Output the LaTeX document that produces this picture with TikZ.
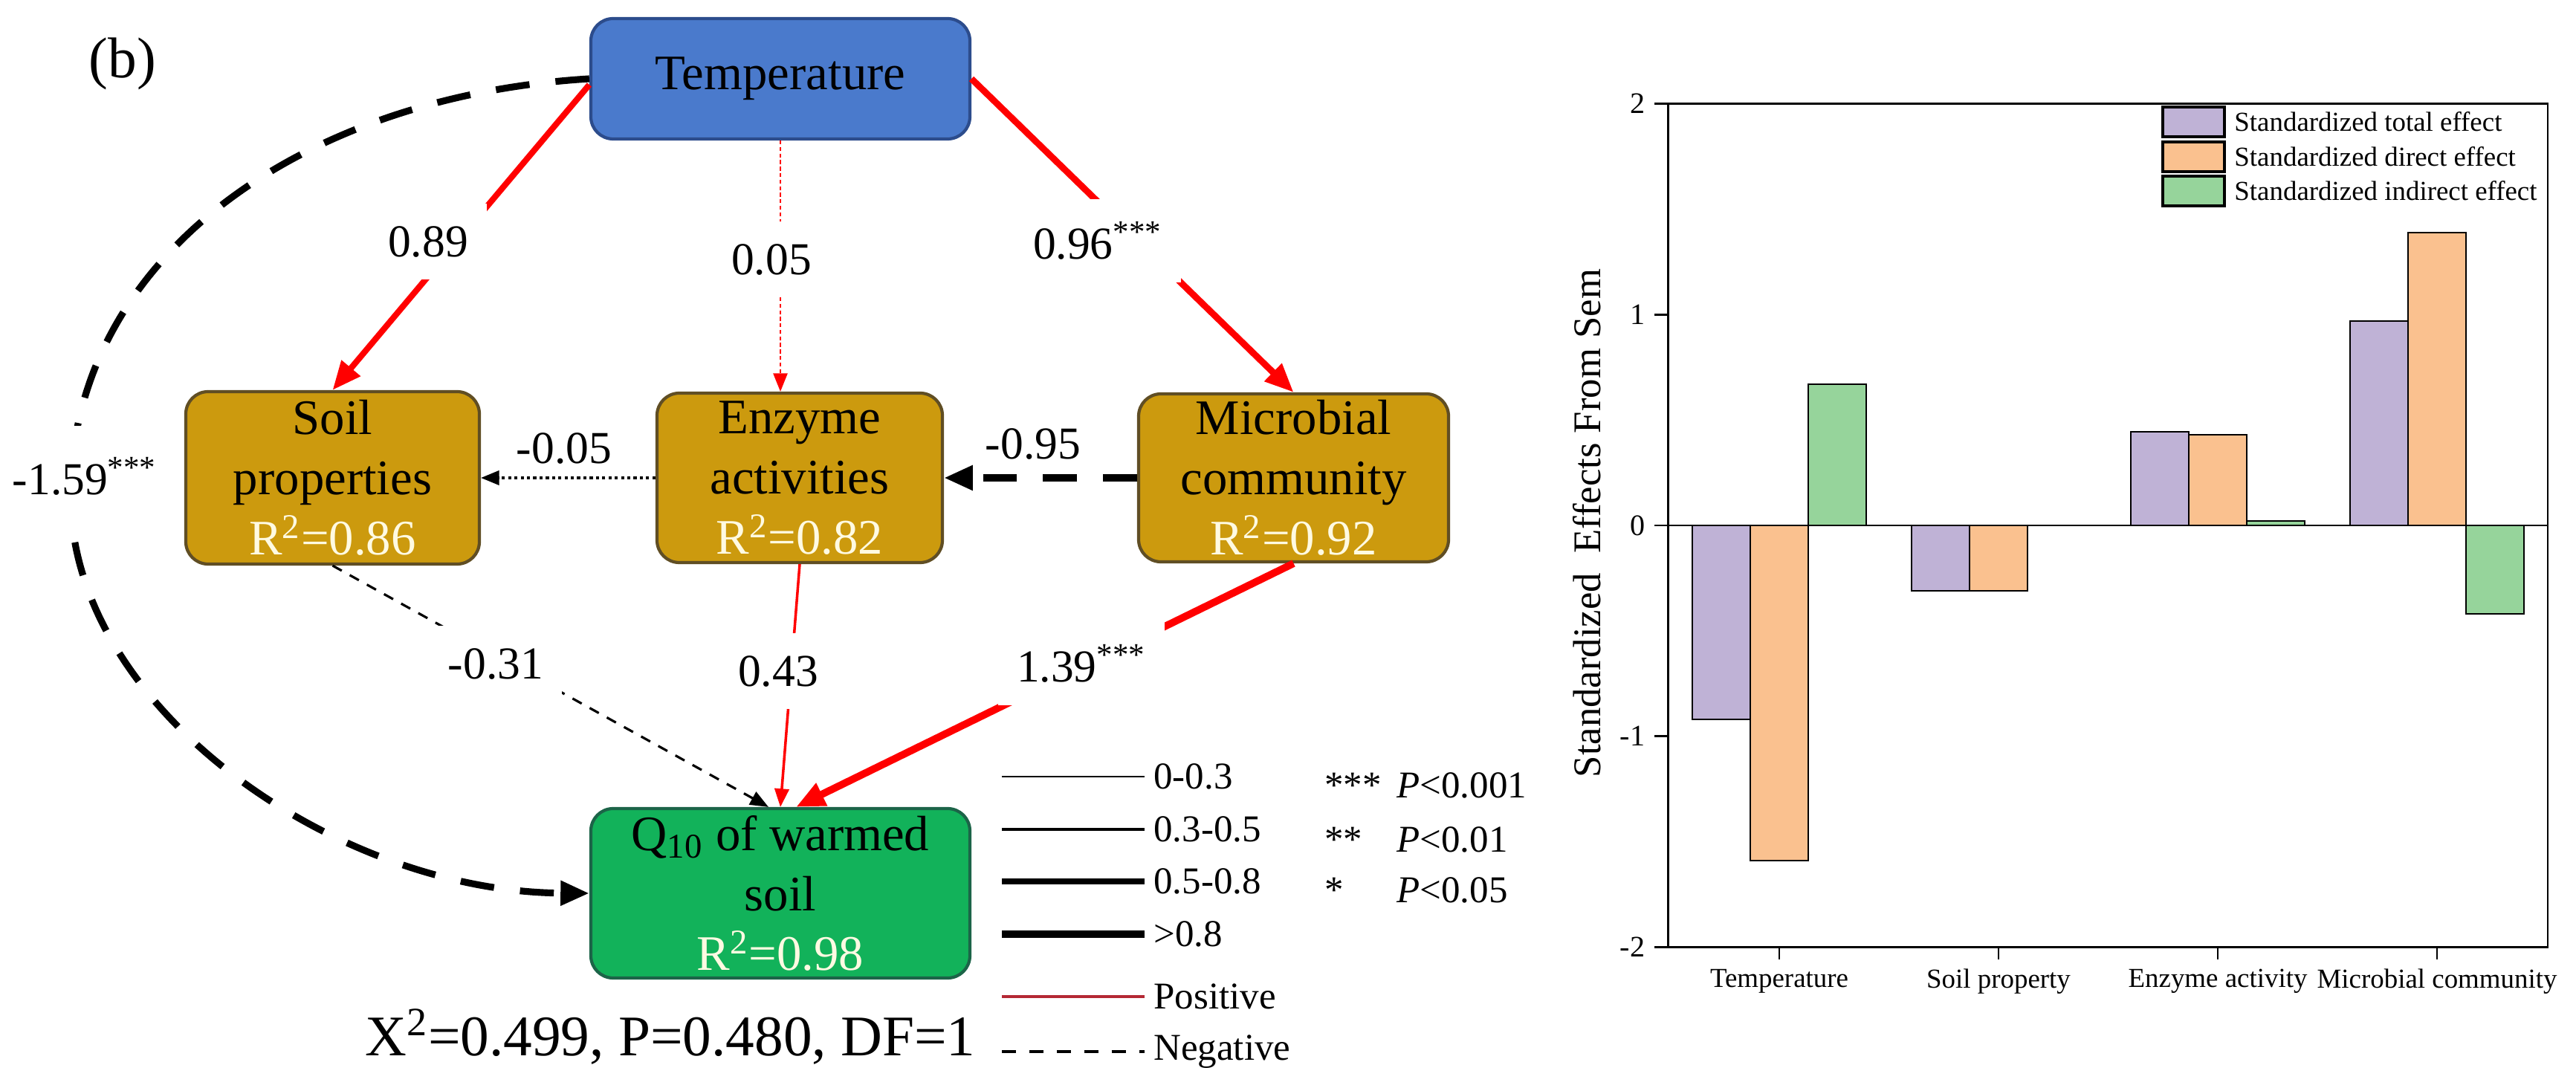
\documentclass[tikz,border=0pt]{standalone}
\usepackage{fontspec}
\setmainfont{Liberation Serif}
\usetikzlibrary{arrows.meta}
\usepackage{color}

\definecolor{tempblue}{RGB}{74,122,204}
\definecolor{tempedge}{RGB}{44,76,140}
\definecolor{soilgold}{RGB}{204,154,14}
\definecolor{goldedge}{RGB}{96,78,36}
\definecolor{qgreen}{RGB}{18,178,90}
\definecolor{greenedge}{RGB}{28,100,72}
\definecolor{rwhite}{RGB}{255,250,226}
\definecolor{posred}{RGB}{180,40,52}
\definecolor{totpurple}{RGB}{191,178,214}
\definecolor{dirorange}{RGB}{250,193,143}
\definecolor{indgreen}{RGB}{150,212,155}
\newcommand{\rsq}[1]{\textcolor{rwhite}{R\textsuperscript{2}=#1}}

\begin{document}
\begin{tikzpicture}[
  box/.style={rectangle, rounded corners=0.3cm, line width=1.2pt, align=center,
      inner sep=0pt, font=\fontsize{19}{23}\selectfont},
  coef/.style={fill=white, inner xsep=0.25cm, inner ysep=0.3cm, font=\fontsize{17.5}{21}\selectfont},
  coefbare/.style={font=\fontsize{17.5}{21}\selectfont},
  bigtip/.style={-{Triangle[length=11pt,width=9pt]}},
  smalltip/.style={-{Triangle[length=7pt,width=5.5pt]}},
  lgd/.style={font=\fontsize{14.5}{17}\selectfont},
  axlbl/.style={font=\fontsize{11.4}{13}\selectfont},
  catlbl/.style={font=\fontsize{10.5}{12}\selectfont},
  bar/.style={draw=black, line width=0.6pt},
  swatch/.style={draw=black, line width=1.1pt, minimum width=0.83cm, minimum height=0.40cm, inner sep=0pt}
]
\useasboundingbox (0,0) rectangle (34.66,14.63);

\node[font=\fontsize{22}{26}\selectfont] (tag) at (1.65,13.77) {(b)};

\node[box, fill=tempblue, draw=tempedge, minimum width=5.10cm, minimum height=1.62cm]
      (temp) at (10.50,13.57) {Temperature};
\node[box, fill=soilgold, draw=goldedge, minimum width=3.95cm, minimum height=2.32cm]
      (soil) at (4.475,8.20) {Soil\\properties\\\rsq{0.86}};
\node[box, fill=soilgold, draw=goldedge, minimum width=3.84cm, minimum height=2.28cm]
      (enz) at (10.76,8.20) {Enzyme\\activities\\\rsq{0.82}};
\node[box, fill=soilgold, draw=goldedge, minimum width=4.17cm, minimum height=2.26cm]
      (mic) at (17.405,8.20) {Microbial\\community\\\rsq{0.92}};
\node[box, fill=qgreen, draw=greenedge, minimum width=5.10cm, minimum height=2.28cm]
      (q10) at (10.50,2.61) {Q\textsubscript{10} of warmed\\soil\\\rsq{0.98}};

\draw[line width=2.6pt, dash pattern=on 13pt off 10pt, bigtip] (temp.west)
      .. controls (4.00,13.33) and (1.00,11.13) .. (0.95,8.03)
      .. controls (0.90,5.13) and (4.50,2.63) .. (q10.west);
\draw[red, line width=2.3pt, bigtip] ([yshift=-0.08cm]temp.west) -- (soil.north);
\draw[red, line width=0.5pt, dash pattern=on 1.5pt off 1pt, smalltip] (temp.south) -- (temp.south |- enz.north);
\draw[red, line width=2.5pt, bigtip] (temp.east) -- (mic.north);
\draw[line width=0.9pt, dash pattern=on 1.2pt off 1.2pt, smalltip] (enz.west) -- (soil.east);
\draw[line width=2.6pt, dash pattern=on 13pt off 10pt, bigtip] (mic.west) -- (enz.east);
\draw[line width=0.9pt, dash pattern=on 4pt off 3.5pt, smalltip] (soil.south) -- ([xshift=-0.16cm]q10.north);
\draw[red, line width=1pt, smalltip] (enz.south) -- (q10.north);
\draw[red, line width=2.8pt, bigtip] (mic.south) -- ([xshift=0.21cm]q10.north);

\node[coef] (c89) at (5.76,11.38) {0.89};
\node[coef] (c05) at (10.38,11.14) {0.05};
\node[coef] (c96) at (14.77,11.39) {0.96\textsuperscript{***}};
\node[coefbare] (c05n) at (7.59,8.60) {-0.05};
\node[coefbare] (c95n) at (13.90,8.66) {-0.95};
\node[coef, inner ysep=0.42cm] (c159n) at (1.14,8.22) {-1.59\textsuperscript{***}};
\node[coef] (c31n) at (6.67,5.70) {-0.31};
\node[coef] (c43) at (10.47,5.60) {0.43};
\node[coef] (c139) at (14.55,5.70) {1.39\textsuperscript{***}};

\node[font=\fontsize{22}{26}\selectfont] (fit) at (9.02,0.68) {X\textsuperscript{2}=0.499, P=0.480, DF=1};

% line legend
\coordinate (k1) at (13.48,4.18);
\coordinate (k2) at (13.48,3.47);
\coordinate (k3) at (13.48,2.77);
\coordinate (k4) at (13.48,2.06);
\coordinate (k5) at (13.48,1.22);
\coordinate (k6) at (13.48,0.48);
\node[lgd, anchor=west] (l1) at (15.40,4.18) {0-0.3};
\node[lgd, anchor=west] (l2) at (15.40,3.47) {0.3-0.5};
\node[lgd, anchor=west] (l3) at (15.40,2.77) {0.5-0.8};
\node[lgd, anchor=west] (l4) at (15.40,2.06) {>0.8};
\node[lgd, anchor=west] (l5) at (15.40,1.22) {Positive};
\node[lgd, anchor=west] (l6) at (15.40,0.48) {Negative};
\draw[line width=0.6pt] (k1) -- (l1.west);
\draw[line width=1.3pt] (k2) -- (l2.west);
\draw[line width=2pt] (k3) -- (l3.west);
\draw[line width=2.6pt] (k4) -- (l4.west);
\draw[posred, line width=1.2pt] (k5) -- (l5.west);
\draw[line width=0.9pt, dash pattern=on 5.5pt off 5pt] (k6) -- (l6.west);

\node[lgd, anchor=base west] (s1) at (17.70,3.89) {***};
\node[lgd, anchor=base west] (s2) at (17.70,3.17) {**};
\node[lgd, anchor=base west] (s3) at (17.70,2.48) {*};
\node[lgd, anchor=base west] (p1) at (18.67,3.89) {\textit{P}<0.001};
\node[lgd, anchor=base west] (p2) at (18.67,3.17) {\textit{P}<0.01};
\node[lgd, anchor=base west] (p3) at (18.67,2.48) {\textit{P}<0.05};

% effects chart
\begin{scope}[shift={(20.99,7.56)}, x=2.95cm, y=2.8375cm]
\draw[bar, fill=totpurple] (0.604,0) rectangle (0.868,-0.92);
\draw[bar, fill=dirorange] (0.868,0) rectangle (1.132,-1.59);
\draw[bar, fill=indgreen] (1.132,0) rectangle (1.396,0.67);
\draw[bar, fill=totpurple] (1.604,0) rectangle (1.868,-0.31);
\draw[bar, fill=dirorange] (1.868,0) rectangle (2.132,-0.31);
\draw[bar, fill=totpurple] (2.604,0) rectangle (2.868,0.445);
\draw[bar, fill=dirorange] (2.868,0) rectangle (3.132,0.43);
\draw[bar, fill=indgreen] (3.132,0) rectangle (3.396,0.02);
\draw[bar, fill=totpurple] (3.604,0) rectangle (3.868,0.97);
\draw[bar, fill=dirorange] (3.868,0) rectangle (4.132,1.39);
\draw[bar, fill=indgreen] (4.132,0) rectangle (4.396,-0.42);

\draw[line width=0.8pt] (0.492,-2) rectangle (4.505,2);
\draw[line width=0.8pt] (0.492,0) -- (4.505,0);

\draw[line width=0.8pt] (0.492,2) -- ++(-0.18cm,0pt) node[axlbl, left] (t2) {2};
\draw[line width=0.8pt] (0.492,1) -- ++(-0.18cm,0pt) node[axlbl, left] (t1) {1};
\draw[line width=0.8pt] (0.492,0) -- ++(-0.18cm,0pt) node[axlbl, left] (t0) {0};
\draw[line width=0.8pt] (0.492,-1) -- ++(-0.18cm,0pt) node[axlbl, left] (tm1) {-1};
\draw[line width=0.8pt] (0.492,-2) -- ++(-0.18cm,0pt) node[axlbl, left] (tm2) {-2};

\draw[line width=0.8pt] (1,-2) -- ++(0pt,-0.17cm);
\draw[line width=0.8pt] (2,-2) -- ++(0pt,-0.17cm);
\draw[line width=0.8pt] (3,-2) -- ++(0pt,-0.17cm);
\draw[line width=0.8pt] (4,-2) -- ++(0pt,-0.17cm);
\node[catlbl, yshift=-0.46cm] (xTemp) at (1,-2) {Temperature};
\node[catlbl, yshift=-0.46cm] (xSoil) at (2,-2) {Soil property};
\node[catlbl, yshift=-0.46cm] (xEnz) at (3,-2) {Enzyme activity};
\node[catlbl, yshift=-0.46cm] (xMic) at (4,-2) {Microbial community};
\end{scope}

\node[rotate=90, font=\fontsize{15}{18}\selectfont] (ylab) at (21.35,7.59) {Standardized\ \ Effects From Sem};

\node[swatch, fill=totpurple] (sw1) at (29.515,12.99) {};
\node[swatch, fill=dirorange] (sw2) at (29.515,12.52) {};
\node[swatch, fill=indgreen] (sw3) at (29.515,12.06) {};
\node[catlbl, anchor=west] (sl1) at (29.94,12.99) {Standardized total effect};
\node[catlbl, anchor=west] (sl2) at (29.94,12.52) {Standardized direct effect};
\node[catlbl, anchor=west] (sl3) at (29.94,12.06) {Standardized indirect effect};
\end{tikzpicture}
\end{document}
